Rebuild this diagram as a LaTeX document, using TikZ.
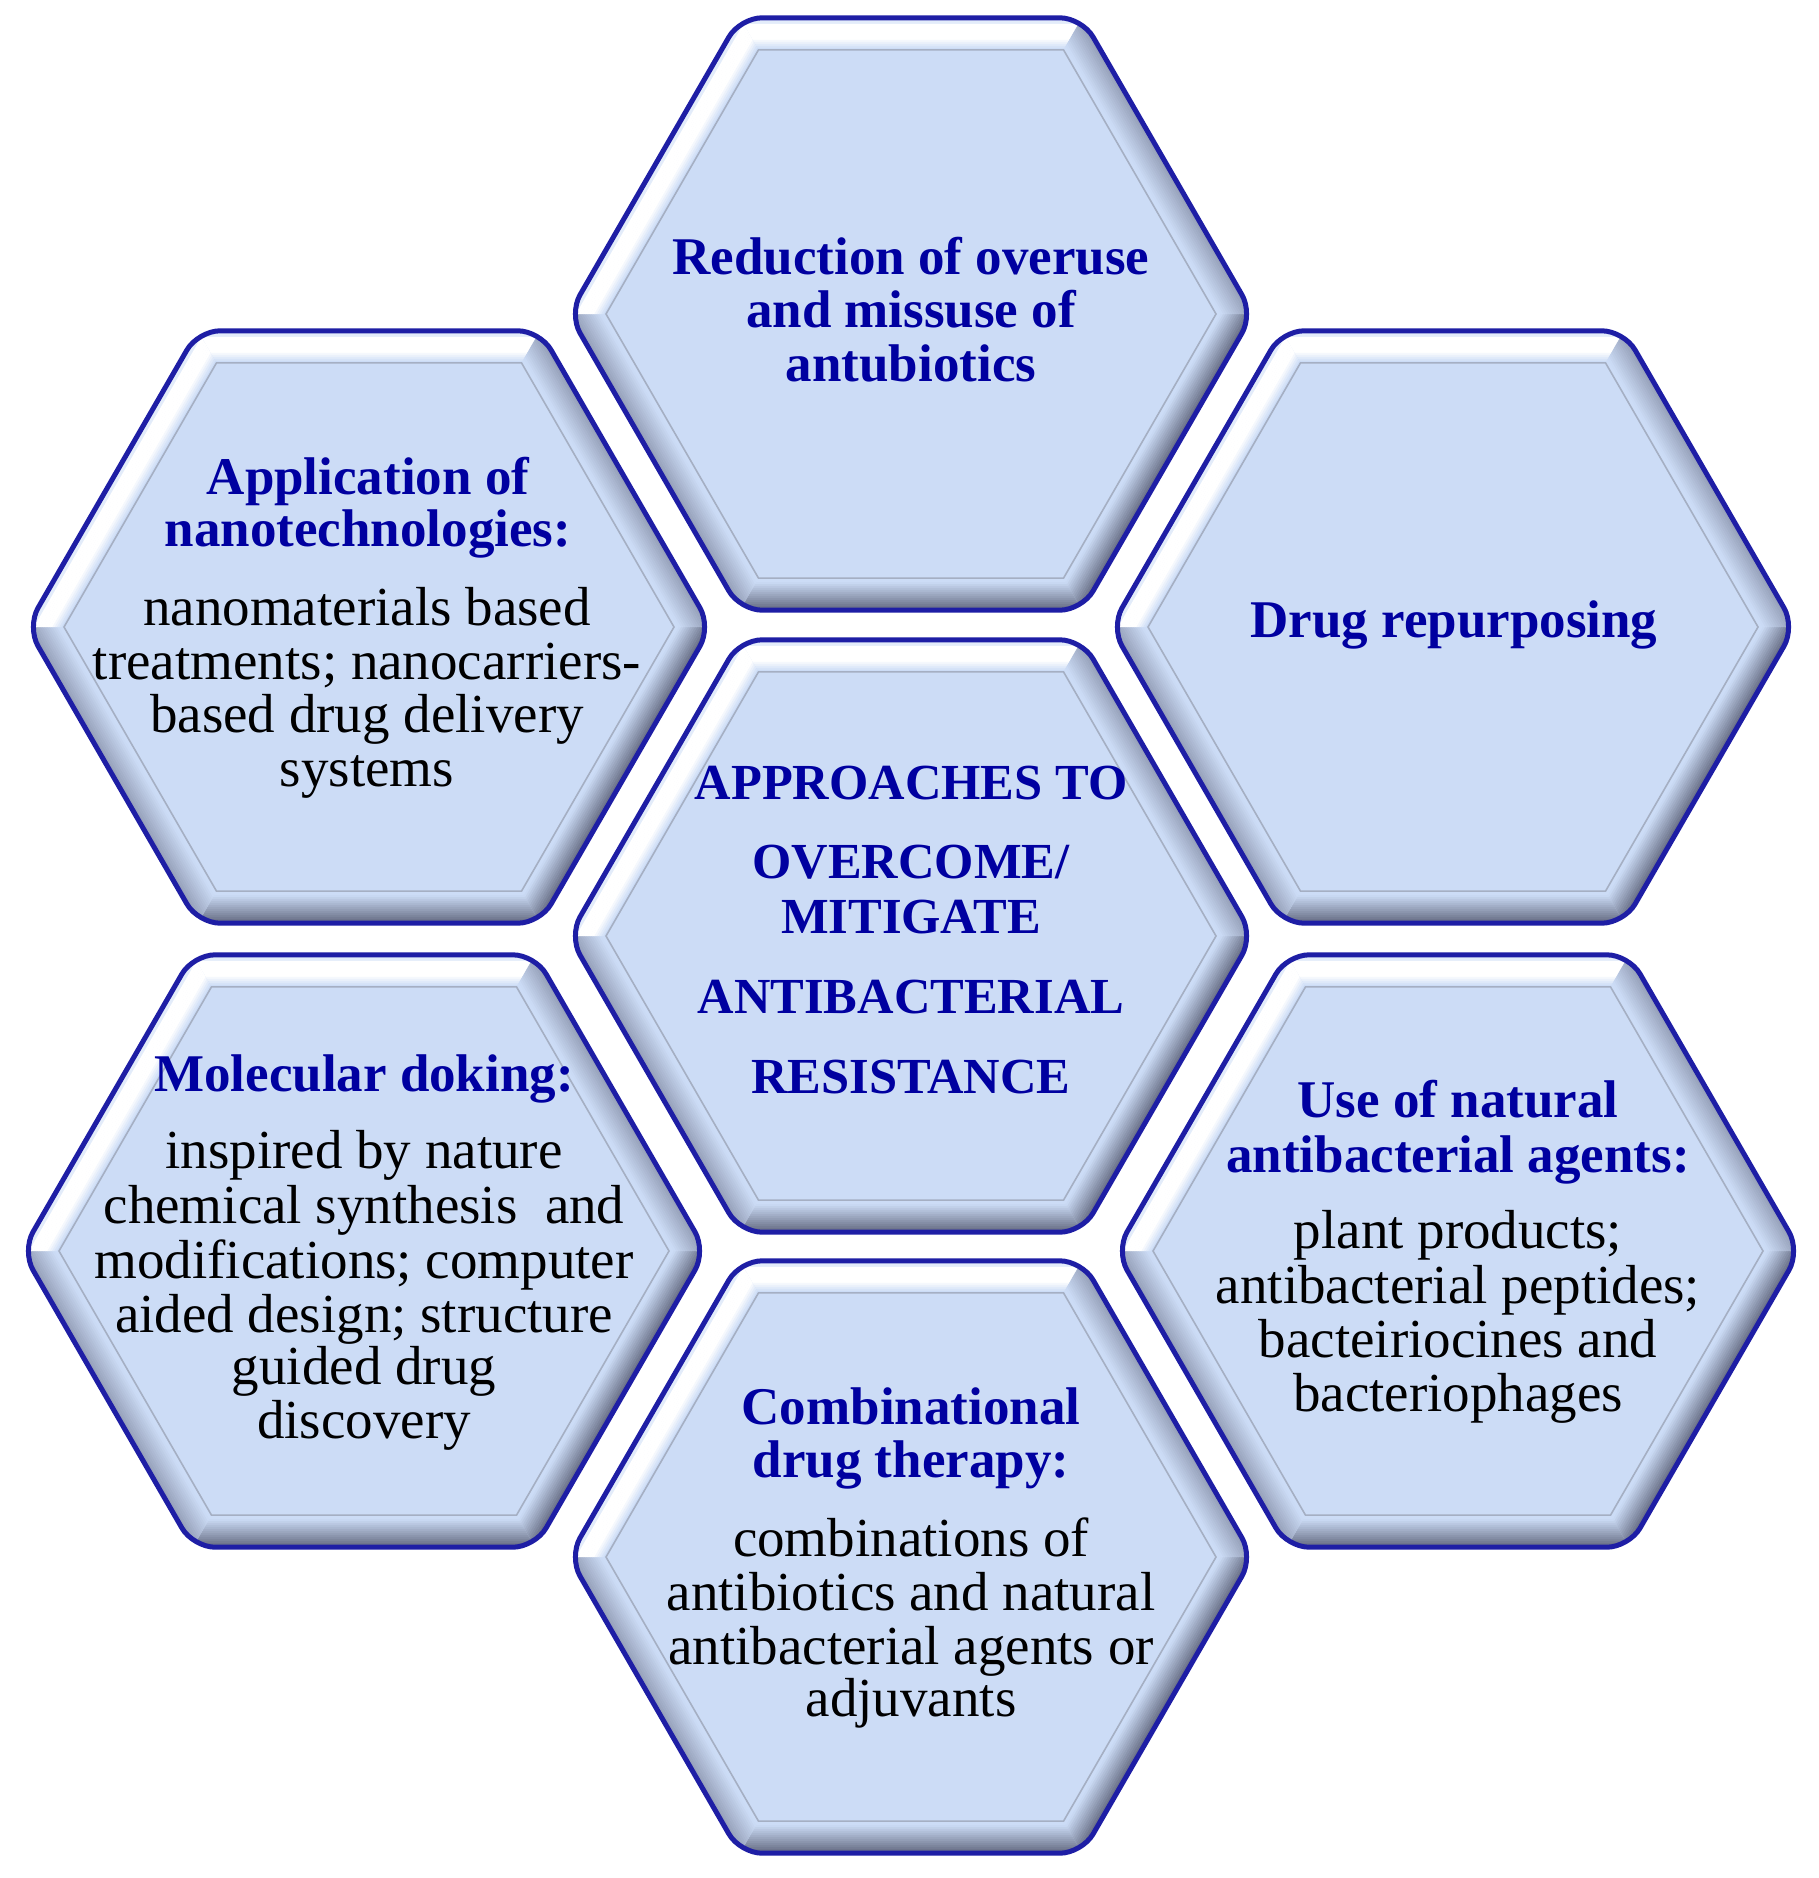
\documentclass[tikz,border=0pt]{standalone}
\usepackage{fontspec}
\setmainfont{Liberation Serif}
\definecolor{hexfill}{RGB}{204,220,246}
\definecolor{navy}{RGB}{30,30,165}
\definecolor{headblue}{RGB}{0,0,160}
\definecolor{dkG}{RGB}{105,112,135}
\definecolor{mdG}{RGB}{150,160,185}
\definecolor{innerline}{RGB}{165,175,195}
\tikzset{
  body/.style={font=\fontsize{55}{58}\selectfont, text=black, anchor=base, inner sep=0pt},
  head/.style={font=\fontsize{53}{56}\selectfont\bfseries, text=headblue, anchor=base, inner sep=0pt},
  caps/.style={font=\fontsize{50.5}{53}\selectfont\bfseries, text=headblue, anchor=base, inner sep=0pt},
  hexborder/.style={draw=navy, line width=5pt, rounded corners=22pt},
  hexinner/.style={draw=innerline, line width=1.6pt},
}
\newcommand\HexR{342}
\newcommand\hexcell[3]{%
  \begin{scope}[shift={(#2,#3)}]
    \coordinate (#1) at (0,0);
    \fill[hexfill, rounded corners=22pt] (0:\HexR) -- (60:\HexR) -- (120:\HexR) -- (180:\HexR) -- (240:\HexR) -- (300:\HexR) -- cycle;
    \begin{scope}
      \clip[rounded corners=22pt] (0:\HexR) -- (60:\HexR) -- (120:\HexR) -- (180:\HexR) -- (240:\HexR) -- (300:\HexR) -- cycle;
      \foreach \k/\tc/\ty in {0/dkG/0,1/dkG/0,2/mdG/0,3/white/1,4/white/1,5/mdG/0}{
        \foreach \j in {0,...,14}{
          \pgfmathsetmacro\ta{2+2*\j}
          \pgfmathsetmacro\tb{\ta+2.4}
          \pgfmathsetmacro\tm{\ta+1}
          \pgfmathsetmacro\p{\ty==0 ? max(0,100*(1-(\tm-2)/26)) : (\tm<7 ? 45 : (\tm<21 ? 100 : max(0,(31-\tm)*10)))}
          \pgfmathsetmacro\ra{\HexR-1.1547*\ta}
          \pgfmathsetmacro\rb{\HexR-1.1547*\tb}
          \pgfmathsetmacro\aa{60*\k}
          \pgfmathsetmacro\ab{60*\k+60}
          \fill[\tc!\p!hexfill] (\aa:\ra) -- (\ab:\ra) -- (\ab:\rb) -- (\aa:\rb) -- cycle;
        }
      }
    \end{scope}
    \pgfmathsetmacro\ri{\HexR-37}
    \draw[hexinner] (0:\ri) -- (60:\ri) -- (120:\ri) -- (180:\ri) -- (240:\ri) -- (300:\ri) -- cycle;
    \draw[hexborder] (0:\HexR) -- (60:\HexR) -- (120:\HexR) -- (180:\HexR) -- (240:\HexR) -- (300:\HexR) -- cycle;
  \end{scope}%
}
\begin{document}
\begin{tikzpicture}[x=1pt,y=-1pt]
\useasboundingbox[fill=white] (0,0) rectangle (1819,1878);

\hexcell{hxtop}{911}{314}
\hexcell{hxul}{369}{627}
\hexcell{hxur}{1453}{627}
\hexcell{hxc}{911}{936}
\hexcell{hxll}{364}{1251}
\hexcell{hxlr}{1458}{1251}
\hexcell{hxb}{911}{1557}

% top
\node[head] (t1) at (911,274) {Reduction of overuse};
\node[head] (t2) at (911,327) {and missuse of};
\node[head] (t3) at (911,381) {antubiotics};

% centre
\node[caps] (c1) at (911,799) {APPROACHES TO};
\node[caps] (c2) at (911,878) {OVERCOME/};
\node[caps] (c3) at (911,933) {MITIGATE};
\node[caps] (c4) at (911,1013) {ANTIBACTERIAL};
\node[caps] (c5) at (911,1093) {RESISTANCE};

% upper left
\node[head] (ul1) at (368,494) {Application of};
\node[head] (ul2) at (368,546) {nanotechnologies:};
\node[body] (ul3) at (367,625.5) {nanomaterials based};
\node[body] (ul4) at (367,679) {treatments; nanocarriers-};
\node[body] (ul5) at (367,732) {based drug delivery};
\node[body] (ul6) at (367,786) {systems};

% upper right
\node[head] (ur1) at (1454,637) {Drug repurposing};

% lower left
\node[head] (ll1) at (364,1091) {Molecular doking:};
\node[body] (ll2) at (364,1168.6) {inspired by nature};
\node[body] (ll3) at (364,1223) {chemical synthesis\ \ and};
\node[body] (ll4) at (364,1278) {modifications; computer};
\node[body] (ll5) at (364,1332) {aided design; structure};
\node[body] (ll6) at (364,1384) {guided drug};
\node[body] (ll7) at (364,1438) {discovery};

% lower right
\node[head] (lr1) at (1458,1117.5) {Use of natural};
\node[head] (lr2) at (1458,1172) {antibacterial agents:};
\node[body] (lr3) at (1458,1248) {plant products;};
\node[body] (lr4) at (1458,1303) {antibacterial peptides;};
\node[body] (lr5) at (1458,1357) {bacteiriocines and};
\node[body] (lr6) at (1458,1411) {bacteriophages};

% bottom
\node[head] (b1) at (911,1424) {Combinational};
\node[head] (b2) at (911,1477.5) {drug therapy:};
\node[body] (b3) at (911,1556) {combinations of};
\node[body] (b4) at (911,1610) {antibiotics and natural};
\node[body] (b5) at (911,1664.5) {antibacterial agents or};
\node[body] (b6) at (911,1716.5) {adjuvants};
\end{tikzpicture}
\end{document}
